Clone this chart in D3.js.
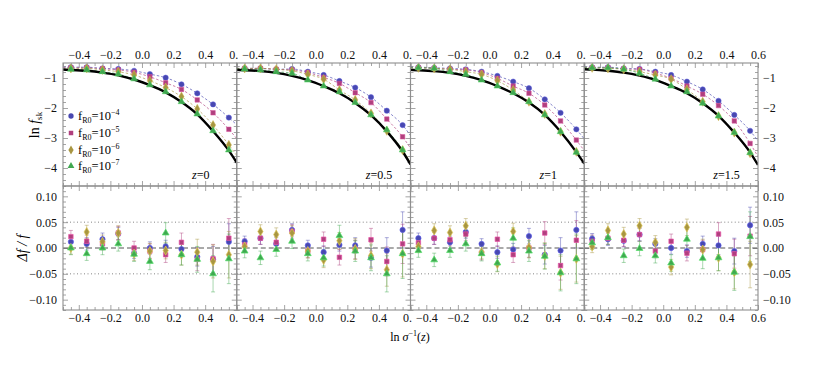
<!DOCTYPE html>
<meta charset="utf-8">
<script src="https://cdn.jsdelivr.net/npm/d3@7"></script>
<style>
  body { margin: 0; background: #fff; }
  text { font-family: "Liberation Serif", "DejaVu Serif", serif; }
</style>
<div id="my_dataviz"></div>
<script>

// bin centres in ln sigma^-1(z)
var xVals = [-0.45, -0.35, -0.25, -0.15, -0.05, 0.05, 0.15, 0.25, 0.35, 0.45, 0.55];
var xCurve = [-0.5, -0.45, -0.35, -0.25, -0.15, -0.05, 0.05, 0.15, 0.25, 0.35, 0.45, 0.55, 0.6];
var redshifts = ["0", "0.5", "1", "1.5"];
var seriesExp = ["\u22124", "\u22125", "\u22126", "\u22127"];
var seriesColors = ["#4848b0", "#b0407e", "#a89642", "#40a850"];

// ln f, one array per panel (z = 0, 0.5, 1, 1.5)
var lnfFr4 = [
  [-0.64, -0.64, -0.68, -0.70, -0.76, -0.87, -0.99, -1.21, -1.51, -1.88, -2.32],
  [-0.68, -0.68, -0.71, -0.70, -0.79, -0.90, -1.10, -1.32, -1.64, -2.09, -2.57],
  [-0.64, -0.66, -0.68, -0.71, -0.79, -0.93, -1.12, -1.34, -1.71, -2.16, -2.71],
  [-0.64, -0.64, -0.68, -0.70, -0.79, -0.90, -1.12, -1.38, -1.76, -2.23, -2.76]
];
var lnfFr5 = [
  [-0.66, -0.66, -0.69, -0.73, -0.81, -0.96, -1.16, -1.38, -1.73, -2.16, -2.71],
  [-0.68, -0.68, -0.71, -0.73, -0.82, -0.98, -1.18, -1.49, -1.82, -2.37, -2.96],
  [-0.66, -0.68, -0.71, -0.73, -0.82, -1.01, -1.27, -1.51, -1.90, -2.43, -3.07],
  [-0.66, -0.66, -0.70, -0.71, -0.84, -1.01, -1.27, -1.54, -1.92, -2.43, -3.18]
];
var lnfFr6 = [
  [-0.68, -0.68, -0.73, -0.79, -0.90, -1.09, -1.32, -1.62, -2.03, -2.57, -3.23],
  [-0.68, -0.68, -0.71, -0.76, -0.88, -1.04, -1.40, -1.73, -2.18, -2.76, -3.40],
  [-0.66, -0.68, -0.71, -0.79, -0.88, -1.09, -1.40, -1.79, -2.20, -2.79, -3.46],
  [-0.66, -0.68, -0.71, -0.79, -0.90, -1.04, -1.38, -1.79, -2.27, -2.82, -3.51]
];
var lnfFr7 = [
  [-0.71, -0.73, -0.79, -0.87, -1.03, -1.23, -1.46, -1.79, -2.20, -2.76, -3.40],
  [-0.70, -0.73, -0.79, -0.84, -1.07, -1.27, -1.46, -1.82, -2.23, -2.73, -3.40],
  [-0.66, -0.68, -0.79, -0.88, -1.07, -1.27, -1.49, -1.79, -2.23, -2.79, -3.48],
  [-0.66, -0.66, -0.71, -0.84, -1.04, -1.27, -1.46, -1.84, -2.27, -2.82, -3.49]
];
// fit curves: value at the left edge and at the right edge of each panel
var fitLeft = [
  [-0.64, -0.66, -0.68, -0.70],
  [-0.68, -0.68, -0.68, -0.69],
  [-0.64, -0.66, -0.66, -0.66],
  [-0.64, -0.66, -0.66, -0.66]
];
var fitRight = [
  [-2.56, -3.02, -3.58, -3.80],
  [-2.92, -3.34, -3.80, -3.84],
  [-3.03, -3.42, -3.82, -3.84],
  [-3.10, -3.62, -3.90, -3.90]
];
// LCDM curve (thick black), sampled at xCurve
var lnfLCDM = [
  [-0.72, -0.73, -0.76, -0.82, -0.91, -1.05, -1.24, -1.48, -1.80, -2.21, -2.77, -3.42, -3.82],
  [-0.73, -0.74, -0.77, -0.83, -0.93, -1.07, -1.27, -1.51, -1.83, -2.24, -2.78, -3.45, -3.88],
  [-0.73, -0.74, -0.77, -0.83, -0.93, -1.07, -1.27, -1.51, -1.82, -2.23, -2.79, -3.47, -3.85],
  [-0.71, -0.72, -0.76, -0.82, -0.92, -1.06, -1.27, -1.51, -1.84, -2.26, -2.82, -3.48, -3.90]
];

// residuals Delta f / f
var resFr4 = [
  [0.012, 0.008, 0.017, 0.028, -0.010, 0.000, 0.003, -0.002, -0.017, -0.022, 0.012],
  [0.013, 0.019, 0.008, 0.035, 0.005, -0.008, 0.006, 0.005, -0.019, -0.005, 0.035],
  [0.019, 0.019, 0.011, 0.031, 0.008, -0.008, -0.003, 0.023, -0.013, -0.005, 0.035],
  [0.018, 0.017, 0.014, 0.026, 0.008, 0.000, -0.006, 0.008, 0.005, -0.006, 0.044]
];
var resFr5 = [
  [0.022, 0.013, 0.008, 0.029, 0.000, -0.006, -0.013, 0.011, -0.022, -0.021, 0.019],
  [0.006, 0.019, 0.011, 0.032, -0.006, 0.017, -0.018, -0.003, 0.016, -0.026, 0.008],
  [0.010, 0.019, 0.016, 0.027, -0.010, 0.017, -0.013, 0.000, 0.029, -0.034, 0.015],
  [0.013, 0.019, 0.015, 0.026, -0.006, 0.013, -0.010, -0.003, 0.027, -0.011, 0.023]
];
var resFr6 = [
  [0.000, 0.031, 0.012, 0.029, -0.011, -0.006, -0.005, -0.013, -0.008, -0.026, -0.013],
  [0.003, 0.032, 0.026, 0.029, -0.006, -0.023, 0.014, -0.002, -0.015, -0.042, -0.011],
  [0.003, 0.034, 0.030, 0.043, -0.008, -0.031, 0.032, 0.001, -0.015, -0.048, -0.021],
  [0.003, 0.034, 0.027, 0.043, 0.011, -0.037, 0.040, -0.003, -0.019, -0.047, -0.032]
];
var resFr7 = [
  [0.000, -0.011, 0.000, 0.008, -0.012, -0.026, 0.029, -0.013, -0.022, -0.050, -0.021],
  [-0.006, -0.019, -0.003, 0.013, -0.011, -0.019, 0.024, -0.006, -0.019, -0.050, -0.011],
  [-0.005, -0.023, -0.005, 0.008, -0.011, -0.029, 0.019, -0.006, -0.016, -0.048, -0.021],
  [0.010, 0.020, -0.015, -0.001, -0.015, -0.029, 0.017, -0.020, -0.019, -0.047, 0.022]
];
// error bar half widths (per series, per bin)
var errFr4 = [0.010, 0.012, 0.012, 0.012, 0.010, 0.012, 0.012, 0.015, 0.018, 0.025, 0.035];
var errFr5 = [0.012, 0.012, 0.012, 0.013, 0.013, 0.014, 0.015, 0.018, 0.022, 0.028, 0.038];
var errFr6 = [0.012, 0.013, 0.013, 0.014, 0.013, 0.015, 0.016, 0.020, 0.025, 0.032, 0.045];
var errFr7 = [0.013, 0.013, 0.013, 0.014, 0.014, 0.016, 0.020, 0.020, 0.025, 0.035, 0.048];

var xMajor = [-0.4, -0.2, 0.0, 0.2, 0.4, 0.6];
var topMajor = [-1, -2, -3, -4];
var botMajor = [0.10, 0.05, 0.00, -0.05, -0.10];

var lnfAll = [lnfFr4, lnfFr5, lnfFr6, lnfFr7];
var resAll = [resFr4, resFr5, resFr6, resFr7];
var errAll = [errFr4, errFr5, errFr6, errFr7];
var symbols = [d3.symbolCircle, d3.symbolSquare, d3.symbolDiamond, d3.symbolTriangle];
var symSize = [22, 20, 24, 20];

var width = 822, height = 374;
var panelX0 = 63, panelW = 173.75;
var topY0 = 63, topY1 = 186, botY1 = 310;
var frameColor = "#8e8e8e";
var serif = "'Liberation Serif', 'DejaVu Serif', serif";

var svg = d3.select("#my_dataviz")
  .append("svg")
    .attr("width", width)
    .attr("height", height)
    .style("font-family", serif);
svg.append("rect").attr("width", width).attr("height", height).attr("fill", "#fff");
var defs = svg.append("defs");

var yTop = d3.scaleLinear().domain([-4.6, -0.5]).range([topY1, topY0]);
var yBot = d3.scaleLinear().domain([-0.12, 0.12]).range([botY1, topY1]);

var fmtX = d3.format(".1f");
var fmtBot = d3.format(".2f");

function styleAxis(g, labelled) {
  g.attr("font-family", null);
  g.select(".domain").remove();
  g.selectAll(".tick line").attr("stroke", frameColor).attr("stroke-width", 0.8);
  g.selectAll(".tick text").attr("fill", "#111").attr("font-size", 12)
    .style("font-family", serif);
  if (!labelled) g.selectAll(".tick text").remove();
}

function minorTicks(lo, hi, step) {
  var out = [];
  for (var v = Math.ceil(lo / step - 1e-9); v * step <= hi + 1e-9; v++) out.push(+(v * step).toFixed(4));
  return out;
}

redshifts.forEach(function(zLabel, p) {
  var L = panelX0 + p * panelW, R = L + panelW;
  var x = d3.scaleLinear().domain([-0.5, 0.6]).range([L, R]);

  var plotClip = "plot" + p;
  defs.append("clipPath").attr("id", plotClip)
    .append("rect").attr("x", L).attr("y", topY0).attr("width", panelW).attr("height", botY1 - topY0);

  var xMinor = minorTicks(-0.5, 0.6, 0.05).filter(function(v) { return xMajor.indexOf(v) < 0; });

  // the 0.6 label is cut by the next panel: only "0." is visible there
  var xFmt = function(v) { return (p < 3 && v > 0.55) ? "0." : fmtX(v); };

  // x axes: top of upper panel (labelled), bottom of upper, top of lower, bottom of lower (labelled)
  [[topY0, d3.axisTop, -1, true], [topY1, d3.axisBottom, 1, false],
   [topY1, d3.axisTop, -1, false], [botY1, d3.axisBottom, 1, true]].forEach(function(a) {
    var gMaj = svg.append("g").attr("transform", "translate(0," + a[0] + ")")
      .call(a[1](x).tickValues(xMajor).tickSize(0).tickPadding(a[2] < 0 ? 4 : 3).tickFormat(xFmt));
    // inward ticks
    gMaj.selectAll(".tick line").attr("y2", a[2] < 0 ? 5 : -5);
    styleAxis(gMaj, a[3]);
    gMaj.selectAll(".tick text").filter(function(d) { return p < 3 && d > 0.55; })
      .attr("text-anchor", "end").attr("x", 1);
    var gMin = svg.append("g").attr("transform", "translate(0," + a[0] + ")")
      .call(a[1](x).tickValues(xMinor).tickSize(0).tickFormat(""));
    gMin.selectAll(".tick line").attr("y2", a[2] < 0 ? 3 : -3);
    styleAxis(gMin, false);
  });

  // y axes on both sides of both panels
  var topMinor = minorTicks(-4.6, -0.5, 0.2).filter(function(v) { return topMajor.indexOf(v) < 0; });
  var botMinor = minorTicks(-0.12, 0.12, 0.01).filter(function(v) {
    return botMajor.every(function(m) { return Math.abs(m - v) > 1e-6; });
  });
  [[L, d3.axisLeft, 1, p === 0], [R, d3.axisRight, -1, p === 3]].forEach(function(a) {
    [[yTop, topMajor, topMinor, d3.format("d")], [yBot, botMajor, botMinor, fmtBot]].forEach(function(s) {
      var gMaj = svg.append("g").attr("transform", "translate(" + a[0] + ",0)")
        .call(a[1](s[0]).tickValues(s[1]).tickSize(0).tickPadding(a[2] > 0 ? 6 : 5).tickFormat(s[3]));
      gMaj.selectAll(".tick line").attr("x2", 5 * a[2]);
      styleAxis(gMaj, a[3]);
      var gMin = svg.append("g").attr("transform", "translate(" + a[0] + ",0)")
        .call(a[1](s[0]).tickValues(s[2]).tickSize(0).tickFormat(""));
      gMin.selectAll(".tick line").attr("x2", 3 * a[2]);
      styleAxis(gMin, false);
    });
  });

  var plot = svg.append("g").attr("clip-path", "url(#" + plotClip + ")");

  // ---- upper panel ----
  var line = d3.line().x(function(d) { return x(d[0]); }).y(function(d) { return yTop(d[1]); })
    .curve(d3.curveMonotoneX);

  lnfAll.forEach(function(series, s) {
    var pts = [[-0.5, fitLeft[p][s]]].concat(xVals.map(function(v, i) { return [v, series[p][i]]; }))
      .concat([[0.6, fitRight[p][s]]]);
    plot.append("path").datum(pts)
      .attr("fill", "none").attr("stroke", seriesColors[s]).attr("stroke-width", 0.8)
      .attr("stroke-dasharray", "2.5,2").attr("opacity", 0.85)
      .attr("d", line);
  });

  plot.append("path")
    .datum(xCurve.map(function(v, i) { return [v, lnfLCDM[p][i]]; }))
    .attr("fill", "none").attr("stroke", "#000").attr("stroke-width", 2.4)
    .attr("d", line);

  lnfAll.forEach(function(series, s) {
    plot.selectAll(null).data(series[p]).enter().append("path")
      .attr("transform", function(d, i) { return "translate(" + x(xVals[i]) + "," + yTop(d) + ")"; })
      .attr("d", d3.symbol().type(symbols[s]).size(symSize[s]))
      .attr("fill", seriesColors[s])
      .attr("stroke", d3.color(seriesColors[s]).brighter(0.6)).attr("stroke-width", 0.5);
  });

  // ---- lower panel ----
  [0.05, -0.05].forEach(function(v) {
    plot.append("line").attr("x1", L).attr("x2", R).attr("y1", yBot(v)).attr("y2", yBot(v))
      .attr("stroke", "#777").attr("stroke-width", 0.9).attr("stroke-dasharray", "1,2.5");
  });
  plot.append("line").attr("x1", L).attr("x2", R).attr("y1", yBot(0)).attr("y2", yBot(0))
    .attr("stroke", "#555").attr("stroke-width", 1).attr("stroke-dasharray", "5,3");

  resAll.forEach(function(series, s) {
    var g = plot.append("g").attr("stroke", seriesColors[s]).attr("stroke-opacity", 0.45)
      .attr("stroke-width", 1);
    series[p].forEach(function(v, i) {
      var cx = x(xVals[i]), e = errAll[s][i];
      g.append("line").attr("x1", cx).attr("x2", cx).attr("y1", yBot(v - e)).attr("y2", yBot(v + e));
      g.append("line").attr("x1", cx - 2).attr("x2", cx + 2).attr("y1", yBot(v - e)).attr("y2", yBot(v - e));
      g.append("line").attr("x1", cx - 2).attr("x2", cx + 2).attr("y1", yBot(v + e)).attr("y2", yBot(v + e));
    });
  });
  resAll.forEach(function(series, s) {
    plot.selectAll(null).data(series[p]).enter().append("path")
      .attr("transform", function(d, i) { return "translate(" + x(xVals[i]) + "," + yBot(d) + ")"; })
      .attr("d", d3.symbol().type(symbols[s]).size(symSize[s]))
      .attr("fill", seriesColors[s])
      .attr("stroke", d3.color(seriesColors[s]).brighter(0.8)).attr("stroke-width", 0.7);
  });

  // frames
  svg.append("rect").attr("x", L).attr("y", topY0).attr("width", panelW).attr("height", topY1 - topY0)
    .attr("fill", "none").attr("stroke", frameColor).attr("stroke-width", 1.1);
  svg.append("rect").attr("x", L).attr("y", topY1).attr("width", panelW).attr("height", botY1 - topY1)
    .attr("fill", "none").attr("stroke", frameColor).attr("stroke-width", 1.1);

  // redshift label
  var zt = svg.append("text").attr("x", L + 129).attr("y", 179).attr("font-size", 12);
  zt.append("tspan").attr("font-style", "italic").text("z");
  zt.append("tspan").text("=" + zLabel);
});

// legend in the first panel
var legX = panelX0 + 8, legY = [116, 133, 150, 166];
seriesExp.forEach(function(ex, s) {
  svg.append("path")
    .attr("transform", "translate(" + legX + "," + legY[s] + ")")
    .attr("d", d3.symbol().type(symbols[s]).size(symSize[s]))
    .attr("fill", seriesColors[s]);
  var t = svg.append("text").attr("x", legX + 7).attr("y", legY[s] + 4).attr("font-size", 12.5);
  t.append("tspan").text("f");
  t.append("tspan").attr("font-size", 8).attr("dy", 3).text("R0");
  t.append("tspan").attr("dy", -3).text("=10");
  t.append("tspan").attr("font-size", 8).attr("dy", -5).text(ex);
});

// axis titles
var yl1 = svg.append("text").attr("transform", "translate(39,125) rotate(-90)")
  .attr("text-anchor", "middle").attr("font-size", 14);
yl1.append("tspan").text("ln ");
yl1.append("tspan").attr("font-style", "italic").text("f");
yl1.append("tspan").attr("font-size", 9).attr("dy", 3).text("sk");

var yl2 = svg.append("text").attr("transform", "translate(27,248) rotate(-90)")
  .attr("text-anchor", "middle").attr("font-size", 14).attr("font-style", "italic");
yl2.text("\u0394f / f");

var xl = svg.append("text").attr("x", 410).attr("y", 341).attr("text-anchor", "middle").attr("font-size", 12);
xl.append("tspan").text("ln ");
xl.append("tspan").attr("font-style", "italic").text("\u03c3");
xl.append("tspan").attr("font-size", 8).attr("dy", -5).text("\u22121");
xl.append("tspan").attr("dy", 5).text("(");
xl.append("tspan").attr("font-style", "italic").text("z");
xl.append("tspan").text(")");

</script>
